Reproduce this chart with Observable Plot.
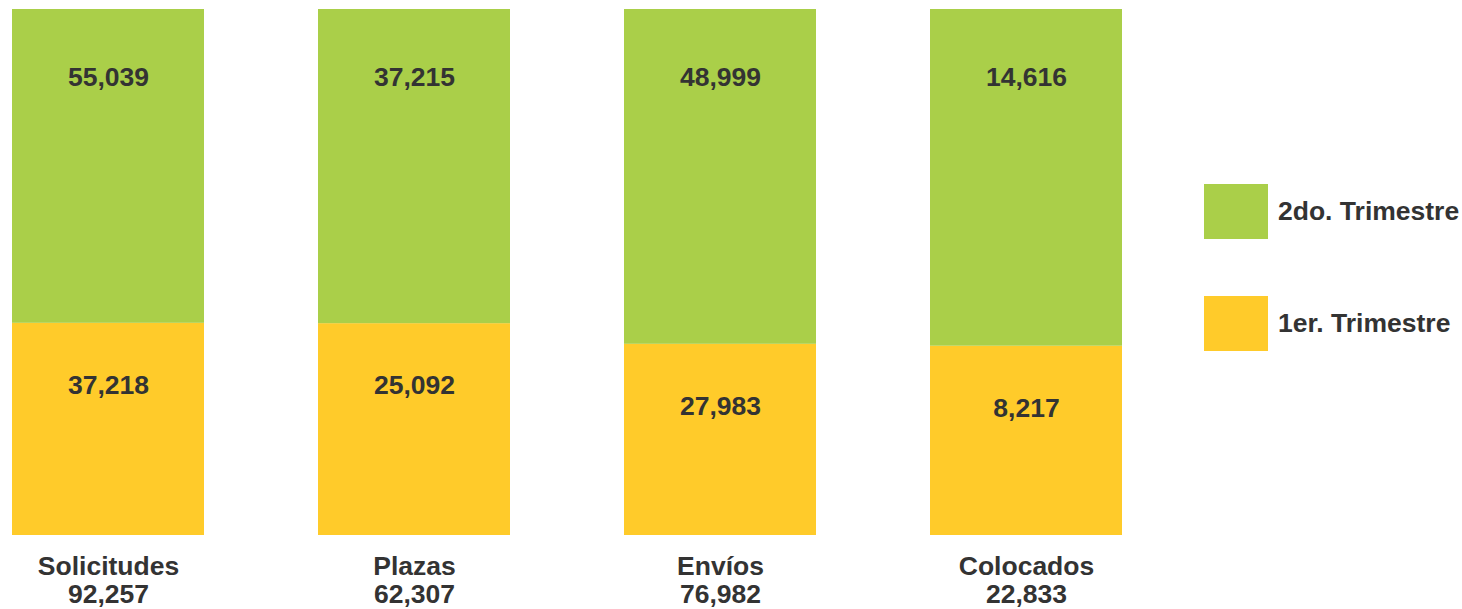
<!DOCTYPE html>
<html>
<head>
<meta charset="utf-8">
<script src="https://cdn.jsdelivr.net/npm/d3@7"></script>
<script src="https://cdn.jsdelivr.net/npm/@observablehq/plot@0.6"></script>
<style>
  html, body { margin: 0; padding: 0; background: #fff; }
  #wrap { position: relative; width: 1462px; height: 609px; overflow: hidden; font-family: "Liberation Sans", Arial, sans-serif; }
  .legend { position: absolute; left: 1204px; display: flex; align-items: center; font-weight: bold; font-size: 26.5px; color: #333; }
  .legend .sw { width: 64px; height: 55px; margin-right: 10px; }
</style>
</head>
<body>
<div id="wrap"></div>
<script>
const categories = ["Solicitudes", "Plazas", "Envíos", "Colocados"];
const series = ["1er. Trimestre", "2do. Trimestre"];
const q1 = [37218, 25092, 27983, 8217];
const q2 = [55039, 37215, 48999, 14616];
const colors = ["#ffcb2a", "#aacf49"];

const data = [];
categories.forEach((c, i) => {
  data.push({cat: c, series: series[0], value: q1[i]});
  data.push({cat: c, series: series[1], value: q2[i]});
});
const totals = new Map(categories.map((c, i) => [c, q1[i] + q2[i]]));
const fmt = d3.format(",");
const FS = 26.5;

const chart = Plot.plot({
  width: 1462,
  height: 609,
  marginLeft: 10,
  marginRight: 338,
  marginTop: 9,
  marginBottom: 74,
  style: {fontFamily: "'Liberation Sans', Arial, sans-serif", fontWeight: "bold", color: "#333", background: "#fff"},
  x: {domain: categories, paddingInner: 0.371, paddingOuter: 0, label: null},
  y: {domain: [0, 1], axis: null},
  color: {domain: series, range: colors},
  marks: [
    Plot.barY(data, Plot.stackY({x: "cat", y: "value", fill: "series", offset: "normalize", order: series})),
    Plot.text(data, Plot.stackY2({
      x: "cat", y: "value", z: "series", offset: "normalize", order: series,
      text: d => d.series === series[1] ? fmt(d.value) : null,
      dy: 68, fontSize: FS, fontWeight: "bold", fill: "#333"
    })),
    Plot.text(data, Plot.stackY2({
      x: "cat", y: "value", z: "series", offset: "normalize", order: series,
      text: d => d.series === series[0] ? fmt(d.value) : null,
      dy: 62, fontSize: FS, fontWeight: "bold", fill: "#333"
    })),
    Plot.axisX({
      tickSize: 0, tickPadding: 19, fontSize: FS, fontWeight: "bold", label: null, lineHeight: 1.08,
      tickFormat: c => c + "\n" + fmt(totals.get(c)), fill: "#333"
    })
  ]
});
const wrap = document.getElementById("wrap");
wrap.appendChild(chart);

const legendItems = [
  {label: series[1], color: colors[1], top: 184},
  {label: series[0], color: colors[0], top: 296}
];
legendItems.forEach(it => {
  const el = document.createElement("div");
  el.className = "legend";
  el.style.top = it.top + "px";
  const sw = document.createElement("div");
  sw.className = "sw";
  sw.style.background = it.color;
  const t = document.createElement("span");
  t.textContent = it.label;
  el.appendChild(sw);
  el.appendChild(t);
  wrap.appendChild(el);
});
</script>
</body>
</html>
